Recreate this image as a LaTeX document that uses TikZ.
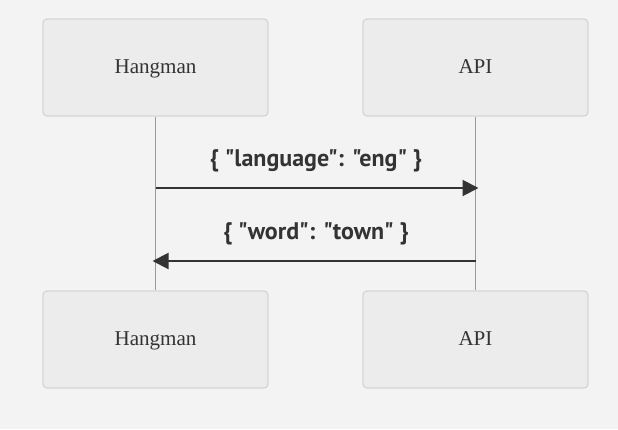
\documentclass[tikz,border=0pt]{standalone}
\usepackage{fontspec}
\setmainfont{Liberation Serif}
\newfontfamily\msgfont{PT Sans}
\usetikzlibrary{arrows.meta}
\definecolor{bgcol}{HTML}{F3F3F3}
\definecolor{boxfill}{HTML}{ECECEC}
\definecolor{boxline}{HTML}{D6D6D6}
\definecolor{lifecol}{HTML}{999999}
\definecolor{msgcol}{HTML}{333333}

\tikzset{
  actor/.style={draw=boxline, fill=boxfill, rounded corners=3pt, line width=1pt,
    minimum width=168.75pt, minimum height=72.75pt, inner sep=0pt,
    text height=1.0em, text depth=0.1em,
    text=msgcol, font=\fontsize{15.8}{19}\selectfont},
  lifeline/.style={draw=lifecol, line width=0.6pt},
  msg/.style={draw=msgcol, line width=1.5pt, -{Triangle[length=12pt,width=12pt]}},
  msglabel/.style={text=msgcol, font=\msgfont\bfseries\fontsize{18}{21}\selectfont}
}

\begin{document}
\begin{tikzpicture}[x=0.75pt,y=-0.75pt]
\fill [bgcol] (0,0) rectangle (618,429);
\useasboundingbox (0,0) rectangle (618,429);
% actors
\node [actor] (hangtop) at (155.5,67.5) {Hangman};
\node [actor] (apitop) at (475.5,67.5) {API};
\node [actor] (hangbot) at (155.5,339.5) {Hangman};
\node [actor] (apibot) at (475.5,339.5) {API};
% lifelines
\draw [lifeline] (hangtop.south) -- (hangbot.north);
\draw [lifeline] (apitop.south) -- (apibot.north);
% messages
\coordinate (reqstart) at (155.5,188);
\coordinate (reqend) at (478.5,188);
\coordinate (respstart) at (475.5,261);
\coordinate (respend) at (152.5,261);
\draw [msg] (reqstart) -- (reqend);
\draw [msg] (respstart) -- (respend);
\node [msglabel] (reqlabel) at (316,161) {\{ "language": "eng" \}};
\node [msglabel] (resplabel) at (316,234) {\{ "word": "town" \}};
\end{tikzpicture}
\end{document}
